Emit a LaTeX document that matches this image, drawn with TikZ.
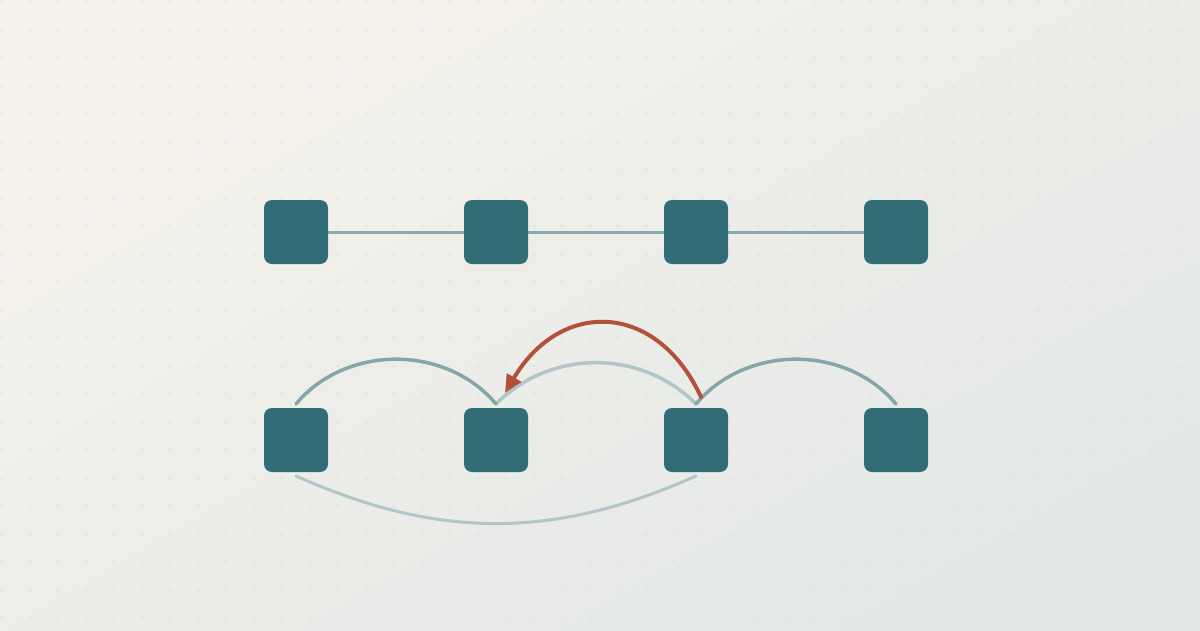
\documentclass[tikz,border=0pt]{standalone}
\usetikzlibrary{arrows.meta}
\definecolor{bgwarm}{HTML}{F5F2EB}
\definecolor{bgcool}{HTML}{E3E8E6}
\definecolor{griddot}{HTML}{E0DFD8}
\definecolor{cellfill}{HTML}{326D77}
\definecolor{linkgray}{HTML}{8AA9AD}
\definecolor{hopdark}{HTML}{84A6AB}
\definecolor{hoplight}{HTML}{B0C6C7}
\definecolor{jumpred}{HTML}{B4503B}
\tikzset{
  cell/.style={rectangle, fill=cellfill, rounded corners=8pt, minimum size=64pt, inner sep=0pt},
  link/.style={linkgray, line width=3pt},
  hop/.style={hopdark, line width=3.5pt, line cap=round},
  hopfaint/.style={hoplight, line width=3.5pt, line cap=round},
  longhop/.style={hoplight, line width=3pt, line cap=round},
  jump/.style={jumpred, line width=4pt, line cap=round, -{Triangle[length=18pt,width=16pt]}}
}
\begin{document}
\begin{tikzpicture}[x=1pt,y=1pt]
\useasboundingbox (0,0) rectangle (1200,-630);
\shade[shading=axis, top color=bgwarm, bottom color=bgcool, shading angle=30] (0,0) rectangle (1200,-630);
\foreach \i in {0,...,42} \foreach \j in {0,...,22}
  \fill[griddot] (2+28*\i,-2-28*\j) circle (1.2pt);
% two rows of cells
\foreach \i in {1,...,4} {
  \node [cell] (t\i) at (96+200*\i,-232) {};
  \node [cell, outer sep=4pt] (b\i) at (96+200*\i,-440) {};
}
\draw [link] (t1) -- (t2); \draw [link] (t2) -- (t3); \draw [link] (t3) -- (t4);
\draw [longhop] (b1.south) to [out=-24,in=-156] (b3.south);
\draw [hopfaint] (b2.north) to [out=45,in=135] (b3.north);
\draw [hop] (b1.north) to [out=50,in=130] (b2.north);
\draw [hop] (b3.north) to [out=50,in=130] (b4.north);
\draw [jump] ([xshift=5pt,yshift=7pt]b3.north) .. controls +(-45,97) and +(55,93) .. ([xshift=9pt,yshift=11pt]b2.north);
\end{tikzpicture}
\end{document}
